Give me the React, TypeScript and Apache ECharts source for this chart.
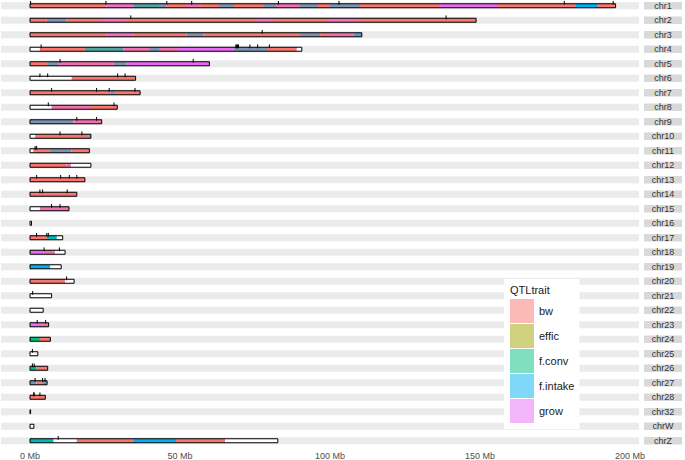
import React, { useEffect, useRef } from "react";
import * as echarts from "echarts";

// ---------- data ----------
const chrNames = [
  "chr1", "chr2", "chr3", "chr4", "chr5", "chr6", "chr7", "chr8", "chr9", "chr10",
  "chr11", "chr12", "chr13", "chr14", "chr15", "chr16", "chr17", "chr18", "chr19", "chr20",
  "chr21", "chr22", "chr23", "chr24", "chr25", "chr26", "chr27", "chr28", "chr32", "chrW", "chrZ",
];

// chromosome lengths (Mb)
const chrLengths = [
  195.2, 148.7, 110.6, 90.6, 59.8, 35.2, 36.7, 29.1, 23.9, 20.3,
  19.8, 20.3, 18.3, 15.6, 13.0, 0.5, 10.9, 11.7, 10.4, 14.7,
  7.2, 4.4, 6.2, 6.8, 2.6, 5.9, 5.7, 5.1, 0.2, 1.3, 82.6,
];

const traits = ["bw", "effic", "f.conv", "f.intake", "grow"];
const traitColors = ["#F8766D", "#A3A500", "#00BF7D", "#00B0F6", "#E76BF3"];
const legendColors = ["#FBBAB6", "#D1D27F", "#7FDFBE", "#7FD7FA", "#F3B5F9"];

const xTickValues = [0, 50, 100, 150, 200];

// QTL regions: [chromosome, start Mb, end Mb, traits present]
const qtlSegments: [string, number, number, string][] = [
  ["chr1", 0, 25.5, "bw"],
  ["chr1", 25.5, 34.4, "bw+grow+grow"],
  ["chr1", 34.4, 43.3, "bw+f.conv+f.intake"],
  ["chr1", 43.3, 45.5, "bw+f.intake"],
  ["chr1", 45.5, 52, "bw"],
  ["chr1", 52, 56.7, "bw+grow"],
  ["chr1", 56.7, 63, "bw"],
  ["chr1", 63, 68, "bw+f.intake"],
  ["chr1", 68, 78, "bw"],
  ["chr1", 78, 82, "bw+f.intake"],
  ["chr1", 82, 90, "bw+grow"],
  ["chr1", 90, 96, "bw+f.intake"],
  ["chr1", 96, 100, "bw"],
  ["chr1", 100, 110, "bw+f.intake"],
  ["chr1", 110, 136.7, "bw"],
  ["chr1", 136.7, 156, "grow"],
  ["chr1", 156, 182, "bw"],
  ["chr1", 182, 189, "f.intake"],
  ["chr1", 189, 195.2, "bw"],

  ["chr2", 0, 5.6, "bw"],
  ["chr2", 5.6, 12.2, "bw+f.intake"],
  ["chr2", 12.2, 24, "bw"],
  ["chr2", 24, 32, "bw+grow"],
  ["chr2", 32, 75, "bw"],
  ["chr2", 75, 81, "bw+grow"],
  ["chr2", 81, 99, "bw"],
  ["chr2", 99, 109, "bw+grow"],
  ["chr2", 109, 148.7, "bw"],

  ["chr3", 0, 25.6, "bw"],
  ["chr3", 25.6, 34.4, "bw+grow+grow"],
  ["chr3", 34.4, 52.2, "bw"],
  ["chr3", 52.2, 57.8, "bw+f.intake"],
  ["chr3", 57.8, 90, "bw"],
  ["chr3", 90, 96.7, "bw+f.intake"],
  ["chr3", 96.7, 100, "bw"],
  ["chr3", 100, 107.8, "bw+grow"],
  ["chr3", 107.8, 110.6, "bw+f.intake+f.intake"],

  ["chr4", 3.3, 18.3, "bw"],
  ["chr4", 18.3, 31.1, "bw+f.conv+f.intake"],
  ["chr4", 31.1, 40, "bw+grow"],
  ["chr4", 40, 43, "bw+f.intake"],
  ["chr4", 43, 49, "bw+grow"],
  ["chr4", 49, 67.8, "grow"],
  ["chr4", 67.8, 79, "bw+f.intake"],
  ["chr4", 79, 88.9, "bw"],

  ["chr5", 0, 5.6, "bw"],
  ["chr5", 5.6, 9.4, "bw+f.intake"],
  ["chr5", 9.4, 27.8, "bw+grow"],
  ["chr5", 27.8, 32.2, "bw+f.intake"],
  ["chr5", 32.2, 59.8, "grow"],

  ["chr6", 13.9, 35.2, "bw"],

  ["chr7", 0, 26.7, "bw"],
  ["chr7", 26.7, 28.3, "bw+f.intake"],
  ["chr7", 28.3, 36.7, "bw"],

  ["chr8", 7.2, 20, "bw+grow"],
  ["chr8", 20, 29.1, "bw"],

  ["chr9", 0, 14.4, "bw+f.intake"],
  ["chr9", 14.4, 23.9, "bw+grow"],

  ["chr10", 1.7, 19.4, "bw"],
  ["chr10", 19.4, 20.3, "bw+f.intake"],

  ["chr11", 1.1, 6.7, "bw"],
  ["chr11", 6.7, 13.9, "bw+f.intake"],
  ["chr11", 13.9, 19.8, "bw"],

  ["chr12", 0, 12.2, "bw"],
  ["chr12", 12.2, 13.6, "bw+grow"],

  ["chr13", 0, 18.3, "bw"],

  ["chr14", 0, 15.6, "bw"],

  ["chr15", 3.3, 13.0, "bw+grow"],

  ["chr17", 0, 5.6, "bw"],
  ["chr17", 5.6, 8.9, "f.conv+f.intake"],

  ["chr18", 0, 4.4, "grow"],
  ["chr18", 4.4, 8.3, "bw+grow"],

  ["chr19", 0, 6.7, "f.intake"],

  ["chr20", 0, 11.7, "bw"],

  ["chr23", 0, 3, "grow"],
  ["chr23", 3, 6.2, "bw+grow"],

  ["chr24", 0, 3.3, "f.conv"],
  ["chr24", 3.3, 6.8, "bw"],

  ["chr26", 0, 2.2, "f.conv"],
  ["chr26", 2.2, 5.9, "bw"],

  ["chr27", 0, 2.2, "bw+f.intake"],
  ["chr27", 2.2, 3.9, "bw"],
  ["chr27", 3.9, 5.7, "bw+f.intake"],

  ["chr28", 0, 5.1, "bw"],

  ["chrZ", 0, 7.8, "f.conv+f.intake"],
  ["chrZ", 15.6, 34.4, "bw"],
  ["chrZ", 34.4, 48.7, "f.intake"],
  ["chrZ", 48.7, 65, "bw"],
];

// marker positions: [chromosome, position Mb]
const markers: [string, number][] = [
  ["chr1", 0.2], ["chr1", 25.3], ["chr1", 45.6], ["chr1", 53.9], ["chr1", 82.8], ["chr1", 103], ["chr1", 178.1], ["chr1", 194.4],
  ["chr2", 33.6], ["chr2", 138.7],
  ["chr3", 77.4],
  ["chr4", 3.7], ["chr4", 68.6], ["chr4", 68.9], ["chr4", 69.2], ["chr4", 69.5], ["chr4", 73.3], ["chr4", 75.9], ["chr4", 79.8],
  ["chr5", 10], ["chr5", 54.4],
  ["chr6", 3.3], ["chr6", 5.9], ["chr6", 29.2], ["chr6", 31.7],
  ["chr7", 7.2], ["chr7", 22.2], ["chr7", 26.4], ["chr7", 35],
  ["chr8", 6.1], ["chr8", 28],
  ["chr9", 15.6], ["chr9", 22.2],
  ["chr10", 10], ["chr10", 17.3],
  ["chr11", 1.7], ["chr11", 2.2],
  ["chr13", 2.2], ["chr13", 10.2], ["chr13", 13.1], ["chr13", 15.6],
  ["chr14", 3.3], ["chr14", 4.2], ["chr14", 12.4],
  ["chr15", 7.2], ["chr15", 10],
  ["chr17", 2.2], ["chr17", 5.6], ["chr17", 6.1],
  ["chr18", 4.7], ["chr18", 9.8],
  ["chr20", 12.2],
  ["chr21", 0.9],
  ["chr23", 2.4], ["chr23", 5.2],
  ["chr25", 0.8],
  ["chr26", 0.8], ["chr26", 1.4],
  ["chr27", 1.7], ["chr27", 4.2], ["chr27", 5],
  ["chr28", 1.2], ["chr28", 1.4], ["chr28", 3.3],
  ["chrZ", 9.4],
];

// ---------- helpers ----------
const hexToRgb = (h: string) => [
  parseInt(h.slice(1, 3), 16),
  parseInt(h.slice(3, 5), 16),
  parseInt(h.slice(5, 7), 16),
];
const mixTraits = (t: string) => {
  const parts = t.split("+");
  const acc = [0, 0, 0];
  parts.forEach((p) => {
    const rgb = hexToRgb(traitColors[traits.indexOf(p)]);
    acc[0] += rgb[0]; acc[1] += rgb[1]; acc[2] += rgb[2];
  });
  return `rgb(${Math.round(acc[0] / parts.length)},${Math.round(acc[1] / parts.length)},${Math.round(acc[2] / parts.length)})`;
};
const chrIndex = (n: string) => chrNames.indexOf(n);

const FONT = "Liberation Sans, Arial, Helvetica, sans-serif";
const BAR_H = 4;

export default function App() {
  const ref = useRef<HTMLDivElement>(null);
  useEffect(() => {
    if (!ref.current) return;
    const chart = echarts.init(ref.current, undefined, { renderer: "svg" });

    const bandData = chrNames.map((_, i) => [0, i]);
    const chromData = chrLengths.map((l, i) => [0, i, l]);
    const segData = qtlSegments.map((s) => [s[1], chrIndex(s[0]), s[2]]);
    const markData = markers.map((m) => [m[1], chrIndex(m[0])]);

    const option: any = {
      animation: false,
      backgroundColor: "#ffffff",
      textStyle: { fontFamily: FONT },
      grid: { left: 1, right: 46, top: -1.5, height: 449.5, outerBoundsMode: "none", containLabel: false },
      xAxis: {
        type: "value",
        min: -9.667,
        max: 203,
        splitLine: { show: false },
        axisLine: { show: false },
        axisTick: { show: false },
        axisLabel: {
          customValues: xTickValues,
          formatter: (v: number) => `${v} Mb`,
          color: "#4D4D4D",
          fontSize: 9,
          fontFamily: FONT,
          margin: 3,
        },
      },
      yAxis: {
        type: "category",
        data: chrNames,
        inverse: true,
        position: "right",
        axisLine: { show: false },
        axisTick: { show: false },
        splitLine: { show: false },
        axisLabel: {
          interval: 0,
          margin: 24,
          align: "center",
          width: 38,
          height: 7.5,
          lineHeight: 8,
          backgroundColor: "#D9D9D9",
          color: "#333333",
          fontSize: 9,
          fontFamily: FONT,
        },
      },
      legend: {
        orient: "vertical",
        left: 504,
        top: 279,
        padding: [20, 5, 6, 6],
        backgroundColor: "#ffffff",
        itemWidth: 24,
        itemHeight: 24,
        itemGap: 1,
        icon: "rect",
        selectedMode: false,
        data: traits,
        textStyle: { fontSize: 11, color: "#1A1A1A", fontFamily: FONT },
      },
      graphic: [
        {
          type: "text",
          left: 510,
          top: 284,
          z: 100,
          style: { text: "QTLtrait", fontSize: 11, fill: "#1A1A1A", fontFamily: FONT },
        },
      ],
      series: [
        {
          type: "custom",
          name: "bands",
          silent: true,
          encode: { x: 0, y: 1 },
          data: bandData,
          renderItem: (params: any, api: any) => {
            const c = api.coord([0, api.value(1)]);
            const cs = params.coordSys;
            return {
              type: "rect",
              shape: { x: cs.x, y: c[1] - 3.6, width: cs.width, height: 7.2 },
              style: { fill: "#EBEBEB" },
            };
          },
        },
        {
          type: "custom",
          name: "chromFill",
          silent: true,
          encode: { x: [0, 2], y: 1 },
          data: chromData,
          renderItem: (params: any, api: any) => {
            const p0 = api.coord([api.value(0), api.value(1)]);
            const p1 = api.coord([api.value(2), api.value(1)]);
            return {
              type: "rect",
              shape: { x: p0[0], y: p0[1] - BAR_H / 2, width: Math.max(p1[0] - p0[0], 0.4), height: BAR_H },
              style: { fill: "#ffffff" },
            };
          },
        },
        {
          type: "custom",
          name: "qtl",
          silent: true,
          encode: { x: [0, 2], y: 1 },
          data: segData,
          renderItem: (params: any, api: any) => {
            const p0 = api.coord([api.value(0), api.value(1)]);
            const p1 = api.coord([api.value(2), api.value(1)]);
            const seg = qtlSegments[params.dataIndex];
            return {
              type: "rect",
              shape: { x: p0[0], y: p0[1] - BAR_H / 2, width: p1[0] - p0[0], height: BAR_H },
              style: { fill: mixTraits(seg[3]) },
            };
          },
        },
        {
          type: "custom",
          name: "chromOutline",
          silent: true,
          encode: { x: [0, 2], y: 1 },
          data: chromData,
          renderItem: (params: any, api: any) => {
            const p0 = api.coord([api.value(0), api.value(1)]);
            const p1 = api.coord([api.value(2), api.value(1)]);
            return {
              type: "rect",
              shape: { x: p0[0], y: p0[1] - BAR_H / 2, width: Math.max(p1[0] - p0[0], 0.4), height: BAR_H },
              style: { fill: "none", stroke: "#000000", lineWidth: 1 },
            };
          },
        },
        {
          type: "custom",
          name: "markers",
          silent: true,
          encode: { x: 0, y: 1 },
          data: markData,
          renderItem: (params: any, api: any) => {
            const c = api.coord([api.value(0), api.value(1)]);
            return {
              type: "line",
              shape: { x1: c[0], y1: c[1] - 4.8, x2: c[0], y2: c[1] - 1 },
              style: { stroke: "#000000", lineWidth: 1 },
            };
          },
        },
        ...traits.map((t, i) => ({
          type: "bar",
          name: t,
          data: [],
          itemStyle: { color: legendColors[i] },
        })),
      ],
    };

    chart.setOption(option);
    return () => chart.dispose();
  }, []);

  return (
    <div
      ref={ref}
      style={{ position: "fixed", left: 0, top: 0, width: 685, height: 460, background: "#fff" }}
    />
  );
}
